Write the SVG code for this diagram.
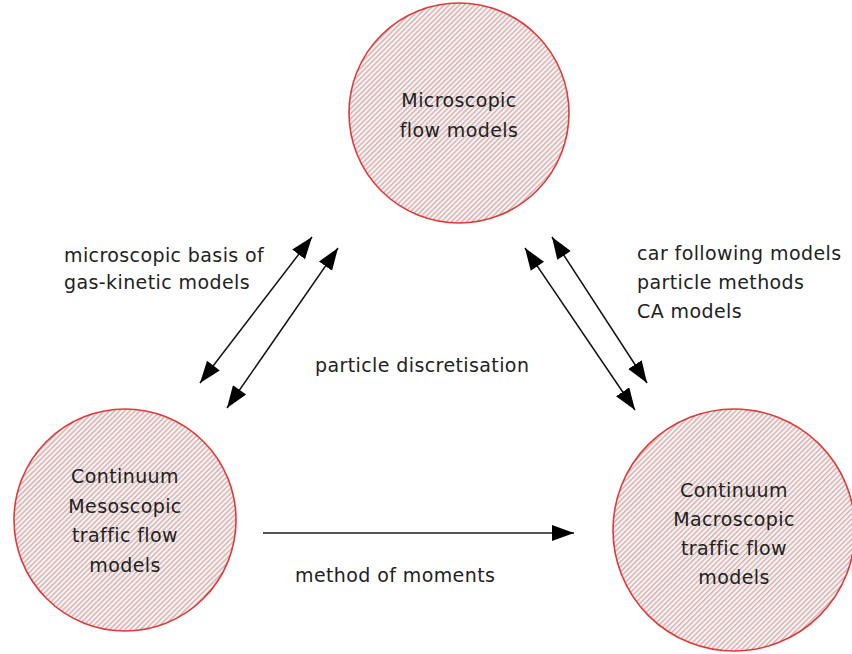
<svg xmlns="http://www.w3.org/2000/svg" width="852" height="654" viewBox="0 0 852 654">
<style>
.node{fill:url(#hatch);stroke:#e03a3a;stroke-width:1.6}
.t{font-family:"DejaVu Sans","Liberation Sans",sans-serif;font-size:19px;fill:#222;letter-spacing:0.4px}
.c{text-anchor:middle}
.arr{stroke:#111;stroke-width:1.5;fill:none;marker-end:url(#ah);marker-start:url(#ahs)}
.harr{stroke:#555;stroke-width:2.2;fill:none;marker-end:url(#ah2)}
</style>
<defs>
<pattern id="hatch" patternUnits="userSpaceOnUse" width="3.6" height="3.6" patternTransform="rotate(45)">
<rect width="3.6" height="3.6" fill="#fbf3f3"/>
<line x1="0.8" y1="0" x2="0.8" y2="3.6" stroke="#bf9494" stroke-width="1"/>
</pattern>
<marker id="ah" markerUnits="userSpaceOnUse" markerWidth="24" markerHeight="18" refX="22" refY="8" orient="auto">
<path d="M0,0 L22,8 L0,16 Z" fill="#000"/>
</marker>
<marker id="ahs" markerUnits="userSpaceOnUse" markerWidth="24" markerHeight="18" refX="0" refY="8" orient="auto">
<path d="M22,0 L0,8 L22,16 Z" fill="#000"/>
</marker>
<marker id="ah2" markerUnits="userSpaceOnUse" markerWidth="24" markerHeight="18" refX="22" refY="8" orient="auto">
<path d="M0,0 L22,8 L0,16 Z" fill="#000"/>
</marker>
</defs>
<rect width="852" height="654" fill="#fff"/>
<g id="connectors">
<line class="arr" x1="200" y1="383" x2="312" y2="237"/>
<line class="arr" x1="227" y1="408" x2="338" y2="248"/>
<line class="arr" x1="525" y1="248" x2="635" y2="410"/>
<line class="arr" x1="552" y1="237" x2="647" y2="383"/>
<line class="harr" x1="263" y1="533" x2="574" y2="533"/>
</g>
<g id="microscopic">
<circle class="node" cx="459" cy="113" r="110"/>
<text class="t c" x="459" y="107">Microscopic</text>
<text class="t c" x="459" y="137">flow models</text>
</g>
<g id="mesoscopic">
<circle class="node" cx="125" cy="520" r="111"/>
<text class="t c" x="125" y="483">Continuum</text>
<text class="t c" x="125" y="513">Mesoscopic</text>
<text class="t c" x="125" y="542">traffic flow</text>
<text class="t c" x="125" y="572">models</text>
</g>
<g id="macroscopic">
<circle class="node" cx="734" cy="530" r="121"/>
<text class="t c" x="734" y="497">Continuum</text>
<text class="t c" x="734" y="526">Macroscopic</text>
<text class="t c" x="734" y="555">traffic flow</text>
<text class="t c" x="734" y="584">models</text>
</g>
<g id="labels">
<text class="t" x="64" y="262">microscopic basis of</text>
<text class="t" x="64" y="289">gas-kinetic models</text>
<text class="t" x="637" y="260">car following models</text>
<text class="t" x="637" y="289">particle methods</text>
<text class="t" x="637" y="318">CA models</text>
<text class="t" x="315" y="372">particle discretisation</text>
<text class="t" x="295" y="582">method of moments</text>
</g>
</svg>
